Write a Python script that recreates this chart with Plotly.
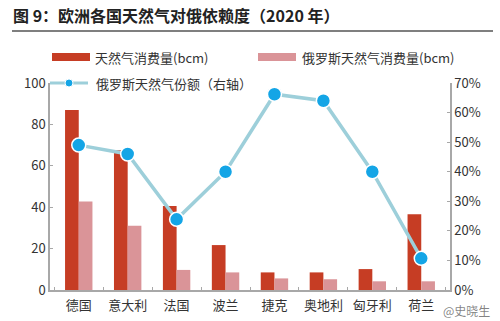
import plotly.graph_objects as go

categories = ["德国", "意大利", "法国", "波兰", "捷克", "奥地利", "匈牙利", "荷兰"]
total_consumption = [87, 67.5, 40.6, 21.7, 8.5, 8.5, 10.1, 36.6]
russia_consumption = [42.7, 31, 9.7, 8.5, 5.6, 5.2, 4.2, 4.2]
russia_share = [0.49, 0.46, 0.239, 0.40, 0.662, 0.64, 0.40, 0.107]

DARK = "#C63D24"
LIGHT = "#DA9498"
LINE = "#9DCFDA"
MARK = "#14A5E6"
AX = "#A8A8A8"
TXT = "#333333"
FONT = "Noto Sans CJK SC"

W, H = 500, 321
L, R, T, B = 50, 50, 83, 31
PW, PH = W - L - R, H - T - B

def px(x):
    return (x - L) / PW

def py(y):
    return (H - B - y) / PH

fig = go.Figure()
fig.add_trace(go.Bar(x=categories, y=total_consumption, name="天然气消费量(bcm)",
                     marker=dict(color=DARK, line=dict(width=0))))
fig.add_trace(go.Bar(x=categories, y=russia_consumption, name="俄罗斯天然气消费量(bcm)",
                     marker=dict(color=LIGHT, line=dict(width=0))))
fig.add_trace(go.Scatter(x=categories, y=russia_share, yaxis="y2", mode="lines+markers",
                         name="俄罗斯天然气份额（右轴）",
                         line=dict(color=LINE, width=3.5),
                         marker=dict(size=14, color=MARK, line=dict(color="white", width=1.5))))

shapes = [
    dict(type="line", xref="paper", yref="paper", x0=px(12), x1=px(493), y0=py(31), y1=py(31),
         line=dict(color="#555555", width=1.5)),
    dict(type="rect", xref="paper", yref="paper", x0=px(52), x1=px(90), y0=py(61), y1=py(53),
         fillcolor=DARK, line=dict(width=0)),
    dict(type="rect", xref="paper", yref="paper", x0=px(258), x1=px(296), y0=py(61), y1=py(53),
         fillcolor=LIGHT, line=dict(width=0)),
    dict(type="line", xref="paper", yref="paper", x0=px(50), x1=px(88), y0=py(83), y1=py(83),
         line=dict(color=LINE, width=3)),
    dict(type="circle", xref="paper", yref="paper", x0=px(65), x1=px(73), y0=py(87), y1=py(79),
         fillcolor=MARK, line=dict(color="white", width=1)),
]

annotations = [
    dict(text="<b>图 9：欧洲各国天然气对俄依赖度（2020 年）</b>", xref="paper", yref="paper",
         x=px(11), y=py(15), xanchor="left", yanchor="middle", showarrow=False,
         font=dict(size=16, color="#222222", family=FONT)),
    dict(text="天然气消费量(bcm)", xref="paper", yref="paper", x=px(93), y=py(57),
         xanchor="left", yanchor="middle", showarrow=False, font=dict(size=13, color=TXT, family=FONT)),
    dict(text="俄罗斯天然气消费量(bcm)", xref="paper", yref="paper", x=px(300), y=py(57),
         xanchor="left", yanchor="middle", showarrow=False, font=dict(size=13, color=TXT, family=FONT)),
    dict(text="俄罗斯天然气份额（右轴）", xref="paper", yref="paper", x=px(94), y=py(83),
         xanchor="left", yanchor="middle", showarrow=False, font=dict(size=13, color=TXT, family=FONT)),
    dict(text="@史晓生", xref="paper", yref="paper", x=px(492), y=py(310),
         xanchor="right", yanchor="middle", showarrow=False,
         font=dict(size=12, color="rgba(90,90,90,0.75)", family=FONT)),
]

fig.update_layout(
    width=W, height=H,
    margin=dict(l=L, r=R, t=T, b=B, autoexpand=False),
    paper_bgcolor="white", plot_bgcolor="white",
    barmode="group", bargap=0.44, bargroupgap=0,
    showlegend=False,
    font=dict(family=FONT, size=13, color=TXT),
    shapes=shapes, annotations=annotations,
    xaxis=dict(showline=True, linecolor=AX, linewidth=1.5, ticks="inside", ticklen=3,
               tickcolor=AX, tickson="boundaries", showgrid=False, ticklabelstandoff=3,
               automargin=False,
               tickfont=dict(size=13, color=TXT, family=FONT)),
    yaxis=dict(range=[0, 100], dtick=20, showline=True, linecolor=AX, linewidth=1.5,
               showgrid=False, zeroline=False, ticks="inside", ticklen=3, tickcolor=AX,
               automargin=False,
               tickfont=dict(size=13, color=TXT, family=FONT)),
    yaxis2=dict(range=[0, 0.7], dtick=0.1, tickformat=".0%", overlaying="y", side="right",
                showline=True, linecolor=AX, linewidth=1.5, showgrid=False, zeroline=False,
                ticks="inside", ticklen=3, tickcolor=AX, automargin=False,
                tickfont=dict(size=13, color=TXT, family=FONT)),
)

fig.write_html("out.html")
